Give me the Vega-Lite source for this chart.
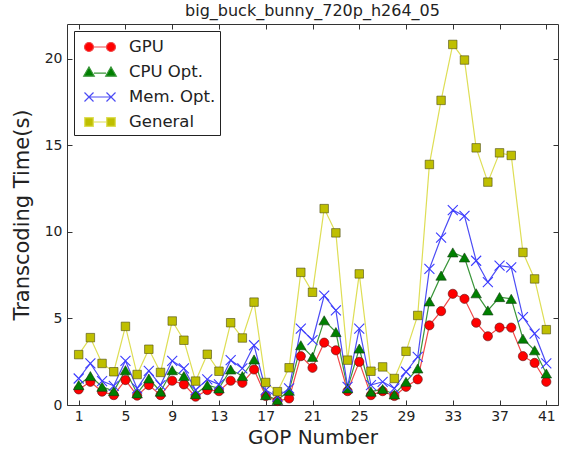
{
  "$schema": "https://vega.github.io/schema/vega-lite/v6.json",
  "width": 491,
  "height": 381,
  "autosize": "none",
  "padding": {"left": 67, "top": 24, "right": 7, "bottom": 47},
  "background": "white",
  "title": {"text": "big_buck_bunny_720p_h264_05", "font": "DejaVu Sans", "fontSize": 16, "fontWeight": "normal", "color": "#222", "offset": 5},
  "config": {
    "view": {"stroke": "#333", "strokeWidth": 1},
    "axis": {"domain": false, "grid": false, "tickSize": -5, "tickColor": "#333", "labelFont": "DejaVu Sans", "labelFontSize": 14, "labelColor": "#222", "titleFont": "DejaVu Sans", "titleFontWeight": "normal", "titleColor": "#222"},
    "legend": {"labelFont": "DejaVu Sans"}
  },
  "data": {"values": [
    {"gop":1,"series":"GPU","time":0.90},{"gop":2,"series":"GPU","time":1.34},{"gop":3,"series":"GPU","time":0.77},{"gop":4,"series":"GPU","time":0.57},{"gop":5,"series":"GPU","time":1.44},{"gop":6,"series":"GPU","time":0.54},{"gop":7,"series":"GPU","time":1.15},{"gop":8,"series":"GPU","time":0.57},{"gop":9,"series":"GPU","time":1.40},{"gop":10,"series":"GPU","time":1.19},{"gop":11,"series":"GPU","time":0.48},{"gop":12,"series":"GPU","time":0.86},{"gop":13,"series":"GPU","time":0.80},{"gop":14,"series":"GPU","time":1.40},{"gop":15,"series":"GPU","time":1.28},{"gop":16,"series":"GPU","time":2.05},{"gop":17,"series":"GPU","time":0.52},{"gop":18,"series":"GPU","time":0.23},{"gop":19,"series":"GPU","time":0.38},{"gop":20,"series":"GPU","time":2.82},{"gop":21,"series":"GPU","time":2.15},{"gop":22,"series":"GPU","time":3.60},{"gop":23,"series":"GPU","time":3.16},{"gop":24,"series":"GPU","time":0.80},{"gop":25,"series":"GPU","time":2.49},{"gop":26,"series":"GPU","time":0.57},{"gop":27,"series":"GPU","time":0.80},{"gop":28,"series":"GPU","time":0.52},{"gop":29,"series":"GPU","time":1.05},{"gop":30,"series":"GPU","time":1.48},{"gop":31,"series":"GPU","time":4.60},{"gop":32,"series":"GPU","time":5.42},{"gop":33,"series":"GPU","time":6.42},{"gop":34,"series":"GPU","time":6.13},{"gop":35,"series":"GPU","time":4.75},{"gop":36,"series":"GPU","time":3.97},{"gop":37,"series":"GPU","time":4.47},{"gop":38,"series":"GPU","time":4.47},{"gop":39,"series":"GPU","time":2.82},{"gop":40,"series":"GPU","time":2.43},{"gop":41,"series":"GPU","time":1.34},
    {"gop":1,"series":"CPU Opt.","time":1.15},{"gop":2,"series":"CPU Opt.","time":1.67},{"gop":3,"series":"CPU Opt.","time":1.05},{"gop":4,"series":"CPU Opt.","time":0.80},{"gop":5,"series":"CPU Opt.","time":2.01},{"gop":6,"series":"CPU Opt.","time":0.67},{"gop":7,"series":"CPU Opt.","time":1.53},{"gop":8,"series":"CPU Opt.","time":0.77},{"gop":9,"series":"CPU Opt.","time":2.01},{"gop":10,"series":"CPU Opt.","time":1.67},{"gop":11,"series":"CPU Opt.","time":0.63},{"gop":12,"series":"CPU Opt.","time":1.15},{"gop":13,"series":"CPU Opt.","time":0.96},{"gop":14,"series":"CPU Opt.","time":2.05},{"gop":15,"series":"CPU Opt.","time":1.67},{"gop":16,"series":"CPU Opt.","time":2.63},{"gop":17,"series":"CPU Opt.","time":0.57},{"gop":18,"series":"CPU Opt.","time":0.29},{"gop":19,"series":"CPU Opt.","time":0.82},{"gop":20,"series":"CPU Opt.","time":3.45},{"gop":21,"series":"CPU Opt.","time":2.78},{"gop":22,"series":"CPU Opt.","time":4.89},{"gop":23,"series":"CPU Opt.","time":4.21},{"gop":24,"series":"CPU Opt.","time":0.96},{"gop":25,"series":"CPU Opt.","time":3.26},{"gop":26,"series":"CPU Opt.","time":0.77},{"gop":27,"series":"CPU Opt.","time":0.92},{"gop":28,"series":"CPU Opt.","time":0.61},{"gop":29,"series":"CPU Opt.","time":1.34},{"gop":30,"series":"CPU Opt.","time":2.11},{"gop":31,"series":"CPU Opt.","time":5.98},{"gop":32,"series":"CPU Opt.","time":7.47},{"gop":33,"series":"CPU Opt.","time":8.81},{"gop":34,"series":"CPU Opt.","time":8.52},{"gop":35,"series":"CPU Opt.","time":6.45},{"gop":36,"series":"CPU Opt.","time":5.46},{"gop":37,"series":"CPU Opt.","time":6.23},{"gop":38,"series":"CPU Opt.","time":6.13},{"gop":39,"series":"CPU Opt.","time":3.83},{"gop":40,"series":"CPU Opt.","time":3.16},{"gop":41,"series":"CPU Opt.","time":1.82},
    {"gop":1,"series":"Mem. Opt.","time":1.53},{"gop":2,"series":"Mem. Opt.","time":2.40},{"gop":3,"series":"Mem. Opt.","time":1.38},{"gop":4,"series":"Mem. Opt.","time":1.11},{"gop":5,"series":"Mem. Opt.","time":2.55},{"gop":6,"series":"Mem. Opt.","time":0.96},{"gop":7,"series":"Mem. Opt.","time":1.97},{"gop":8,"series":"Mem. Opt.","time":1.15},{"gop":9,"series":"Mem. Opt.","time":2.55},{"gop":10,"series":"Mem. Opt.","time":2.11},{"gop":11,"series":"Mem. Opt.","time":0.86},{"gop":12,"series":"Mem. Opt.","time":1.48},{"gop":13,"series":"Mem. Opt.","time":1.19},{"gop":14,"series":"Mem. Opt.","time":2.59},{"gop":15,"series":"Mem. Opt.","time":2.11},{"gop":16,"series":"Mem. Opt.","time":3.45},{"gop":17,"series":"Mem. Opt.","time":0.86},{"gop":18,"series":"Mem. Opt.","time":0.48},{"gop":19,"series":"Mem. Opt.","time":0.96},{"gop":20,"series":"Mem. Opt.","time":4.41},{"gop":21,"series":"Mem. Opt.","time":3.74},{"gop":22,"series":"Mem. Opt.","time":6.32},{"gop":23,"series":"Mem. Opt.","time":5.46},{"gop":24,"series":"Mem. Opt.","time":1.05},{"gop":25,"series":"Mem. Opt.","time":4.41},{"gop":26,"series":"Mem. Opt.","time":1.15},{"gop":27,"series":"Mem. Opt.","time":1.34},{"gop":28,"series":"Mem. Opt.","time":0.96},{"gop":29,"series":"Mem. Opt.","time":1.92},{"gop":30,"series":"Mem. Opt.","time":2.78},{"gop":31,"series":"Mem. Opt.","time":7.86},{"gop":32,"series":"Mem. Opt.","time":9.67},{"gop":33,"series":"Mem. Opt.","time":11.25},{"gop":34,"series":"Mem. Opt.","time":10.92},{"gop":35,"series":"Mem. Opt.","time":8.33},{"gop":36,"series":"Mem. Opt.","time":7.09},{"gop":37,"series":"Mem. Opt.","time":8.05},{"gop":38,"series":"Mem. Opt.","time":7.95},{"gop":39,"series":"Mem. Opt.","time":5.08},{"gop":40,"series":"Mem. Opt.","time":4.12},{"gop":41,"series":"Mem. Opt.","time":2.40},
    {"gop":1,"series":"General","time":2.91},{"gop":2,"series":"General","time":3.89},{"gop":3,"series":"General","time":2.40},{"gop":4,"series":"General","time":1.92},{"gop":5,"series":"General","time":4.54},{"gop":6,"series":"General","time":1.76},{"gop":7,"series":"General","time":3.22},{"gop":8,"series":"General","time":1.88},{"gop":9,"series":"General","time":4.85},{"gop":10,"series":"General","time":3.74},{"gop":11,"series":"General","time":1.38},{"gop":12,"series":"General","time":2.93},{"gop":13,"series":"General","time":1.95},{"gop":14,"series":"General","time":4.75},{"gop":15,"series":"General","time":3.87},{"gop":16,"series":"General","time":5.94},{"gop":17,"series":"General","time":1.30},{"gop":18,"series":"General","time":0.77},{"gop":19,"series":"General","time":2.15},{"gop":20,"series":"General","time":7.66},{"gop":21,"series":"General","time":6.51},{"gop":22,"series":"General","time":11.34},{"gop":23,"series":"General","time":9.94},{"gop":24,"series":"General","time":2.59},{"gop":25,"series":"General","time":7.57},{"gop":26,"series":"General","time":1.95},{"gop":27,"series":"General","time":2.20},{"gop":28,"series":"General","time":1.53},{"gop":29,"series":"General","time":3.10},{"gop":30,"series":"General","time":5.17},{"gop":31,"series":"General","time":13.89},{"gop":32,"series":"General","time":17.59},{"gop":33,"series":"General","time":20.82},{"gop":34,"series":"General","time":19.92},{"gop":35,"series":"General","time":14.85},{"gop":36,"series":"General","time":12.87},{"gop":37,"series":"General","time":14.56},{"gop":38,"series":"General","time":14.41},{"gop":39,"series":"General","time":8.81},{"gop":40,"series":"General","time":7.28},{"gop":41,"series":"General","time":4.35}
  ]},
  "resolve": {"axis": {"x": "independent", "y": "independent"}},
  "layer": [
    {
      "mark": {"type": "line", "strokeWidth": 1.2},
      "encoding": {
        "x": {"field": "gop", "type": "quantitative", "scale": {"domain": [0, 42], "nice": false, "zero": false},
              "axis": {"orient": "bottom", "values": [1,5,9,13,17,21,25,29,33,37,41], "title": "GOP Number", "titleFontSize": 20, "titlePadding": 4, "labelPadding": 9, "labelFlush": false}},
        "y": {"field": "time", "type": "quantitative", "scale": {"domain": [0, 22], "nice": false},
              "axis": {"orient": "left", "values": [0,5,10,15,20], "title": "Transcoding Time(s)", "titleFontSize": 21, "titlePadding": 12, "labelPadding": 10}},
        "color": {"field": "series", "type": "nominal",
          "scale": {"domain": ["GPU", "CPU Opt.", "Mem. Opt.", "General"], "range": ["#f04848", "#3a963a", "#4c4cf5", "#dede55"]},
          "legend": {
            "title": null, "orient": "top-left", "offset": 7,
            "padding": 4, "rowPadding": 4, "symbolSize": 484, "symbolOffset": 10, "labelOffset": 17,
            "labelFontSize": 16.5, "labelColor": "#222", "labelFont": "DejaVu Sans",
            "strokeColor": "#222", "fillColor": "white", "cornerRadius": 0,
            "encode": {"symbols": {"update": {
              "shape": {"signal": "datum.value === 'GPU' ? 'M-0.59,0L0.59,0M-0.59,0A0.41,0.41 0 1,1 -1.41,0A0.41,0.41 0 1,1 -0.59,0ZM1.41,0A0.41,0.41 0 1,1 0.59,0A0.41,0.41 0 1,1 1.41,0Z' : datum.value === 'CPU Opt.' ? 'M-0.55,0.1L0.55,0.1M-1,-0.45L-0.52,0.38L-1.48,0.38ZM1,-0.45L1.48,0.38L0.52,0.38Z' : datum.value === 'Mem. Opt.' ? 'M-1.41,-0.41L-0.59,0.41M-1.41,0.41L-0.59,-0.41M-1,0L1,0M0.59,-0.41L1.41,0.41M0.59,0.41L1.41,-0.41' : 'M-0.61,0L0.61,0M-1.39,-0.39L-0.61,-0.39L-0.61,0.39L-1.39,0.39ZM0.61,-0.39L1.39,-0.39L1.39,0.39L0.61,0.39Z'"},
              "fill": {"signal": "datum.value === 'GPU' ? '#ff0000' : datum.value === 'CPU Opt.' ? '#008000' : datum.value === 'Mem. Opt.' ? 'transparent' : '#bfbf00'"},
              "stroke": {"signal": "datum.value === 'GPU' ? '#e83030' : datum.value === 'CPU Opt.' ? '#2a7a2a' : datum.value === 'Mem. Opt.' ? '#4c4cf5' : '#a0a020'"},
              "strokeWidth": {"value": 1.2},
              "opacity": {"value": 1}
            }}}
          }
        }
      }
    },
    {
      "transform": [{"filter": "datum.series === 'GPU'"}],
      "mark": {"type": "point", "shape": "circle", "filled": true, "fill": "#ff0000", "stroke": "#5a1010", "strokeWidth": 0.6, "size": 85, "opacity": 1},
      "encoding": {
        "x": {"field": "gop", "type": "quantitative", "scale": {"domain": [0, 42], "nice": false, "zero": false},
              "axis": {"orient": "top", "values": [1,5,9,13,17,21,25,29,33,37,41], "labels": false, "title": null}},
        "y": {"field": "time", "type": "quantitative", "scale": {"domain": [0, 22], "nice": false},
              "axis": {"orient": "right", "values": [0,5,10,15,20], "labels": false, "title": null}}
      }
    },
    {
      "transform": [{"filter": "datum.series === 'CPU Opt.'"}],
      "mark": {"type": "point", "shape": "triangle-up", "filled": true, "fill": "#008000", "stroke": "#103a10", "strokeWidth": 0.6, "size": 110, "opacity": 1},
      "encoding": {
        "x": {"field": "gop", "type": "quantitative", "axis": null},
        "y": {"field": "time", "type": "quantitative", "axis": null}
      }
    },
    {
      "transform": [{"filter": "datum.series === 'Mem. Opt.'"}],
      "mark": {"type": "point", "shape": "M-1,-1L1,1M-1,1L1,-1", "filled": false, "stroke": "#3a3aff", "strokeWidth": 1.1, "size": 100, "opacity": 1},
      "encoding": {
        "x": {"field": "gop", "type": "quantitative", "axis": null},
        "y": {"field": "time", "type": "quantitative", "axis": null}
      }
    },
    {
      "transform": [{"filter": "datum.series === 'General'"}],
      "mark": {"type": "point", "shape": "square", "filled": true, "fill": "#bfbf00", "stroke": "#4a4a10", "strokeWidth": 0.6, "size": 72, "opacity": 1},
      "encoding": {
        "x": {"field": "gop", "type": "quantitative", "axis": null},
        "y": {"field": "time", "type": "quantitative", "axis": null}
      }
    }
  ]
}
